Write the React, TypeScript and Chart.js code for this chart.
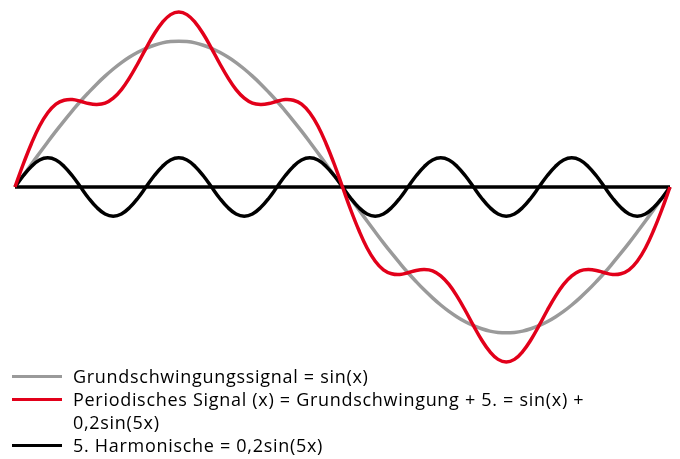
import React, { useEffect, useRef } from "react";
import { Chart, registerables } from "chart.js";

Chart.register(...registerables);

// x positions in degrees (0..360, step 4.5)
const xDegrees = [
  0, 4.5, 9, 13.5, 18, 22.5, 27, 31.5, 36, 40.5, 45, 49.5, 54, 58.5, 63, 67.5, 72, 76.5, 81, 85.5,
  90, 94.5, 99, 103.5, 108, 112.5, 117, 121.5, 126, 130.5, 135, 139.5, 144, 148.5, 153, 157.5, 162, 166.5, 171, 175.5,
  180, 184.5, 189, 193.5, 198, 202.5, 207, 211.5, 216, 220.5, 225, 229.5, 234, 238.5, 243, 247.5, 252, 256.5, 261, 265.5,
  270, 274.5, 279, 283.5, 288, 292.5, 297, 301.5, 306, 310.5, 315, 319.5, 324, 328.5, 333, 337.5, 342, 346.5, 351, 355.5,
  360,
];

// Grundschwingungssignal = sin(x)
const grundValues = [
  0, 0.078, 0.156, 0.233, 0.309, 0.383, 0.454, 0.522, 0.588, 0.649, 0.707, 0.76, 0.809, 0.853, 0.891, 0.924, 0.951, 0.972, 0.988, 0.997,
  1, 0.997, 0.988, 0.972, 0.951, 0.924, 0.891, 0.853, 0.809, 0.76, 0.707, 0.649, 0.588, 0.522, 0.454, 0.383, 0.309, 0.233, 0.156, 0.078,
  0, -0.078, -0.156, -0.233, -0.309, -0.383, -0.454, -0.522, -0.588, -0.649, -0.707, -0.76, -0.809, -0.853, -0.891, -0.924, -0.951, -0.972, -0.988, -0.997,
  -1, -0.997, -0.988, -0.972, -0.951, -0.924, -0.891, -0.853, -0.809, -0.76, -0.707, -0.649, -0.588, -0.522, -0.454, -0.383, -0.309, -0.233, -0.156, -0.078,
  0,
];

// 5. Harmonische = 0,2sin(5x)
const harmonicValues = [
  0, 0.077, 0.141, 0.185, 0.2, 0.185, 0.141, 0.077, 0, -0.077, -0.141, -0.185, -0.2, -0.185, -0.141, -0.077,
  0, 0.077, 0.141, 0.185, 0.2, 0.185, 0.141, 0.077, 0, -0.077, -0.141, -0.185, -0.2, -0.185, -0.141, -0.077,
  0, 0.077, 0.141, 0.185, 0.2, 0.185, 0.141, 0.077, 0, -0.077, -0.141, -0.185, -0.2, -0.185, -0.141, -0.077,
  0, 0.077, 0.141, 0.185, 0.2, 0.185, 0.141, 0.077, 0, -0.077, -0.141, -0.185, -0.2, -0.185, -0.141, -0.077,
  0, 0.077, 0.141, 0.185, 0.2, 0.185, 0.141, 0.077, 0, -0.077, -0.141, -0.185, -0.2, -0.185, -0.141, -0.077,
  0,
];

// Periodisches Signal = sin(x) + 0,2sin(5x)
const periodicValues = [
  0, 0.156, 0.297, 0.418, 0.509, 0.568, 0.595, 0.6, 0.588, 0.572, 0.566, 0.575, 0.609, 0.668, 0.75, 0.847, 0.951, 1.049, 1.129, 1.182,
  1.2, 1.182, 1.129, 1.049, 0.951, 0.847, 0.75, 0.668, 0.609, 0.575, 0.566, 0.572, 0.588, 0.6, 0.595, 0.568, 0.509, 0.418, 0.297, 0.156,
  0, -0.156, -0.297, -0.418, -0.509, -0.568, -0.595, -0.6, -0.588, -0.572, -0.566, -0.575, -0.609, -0.668, -0.75, -0.847, -0.951, -1.049, -1.129, -1.182,
  -1.2, -1.182, -1.129, -1.049, -0.951, -0.847, -0.75, -0.668, -0.609, -0.575, -0.566, -0.572, -0.588, -0.6, -0.595, -0.568, -0.509, -0.418, -0.297, -0.156,
  0,
];

// zero axis line endpoints
const axisX = [0, 360];
const axisY = [0, 0];

const GRAY = "#9a9a9a";
const RED = "#e2001a";
const BLACK = "#000000";

const legendItems = [
  { color: GRAY, lines: ["Grundschwingungssignal = sin(x)"] },
  { color: RED, lines: ["Periodisches Signal (x) = Grundschwingung + 5. = sin(x) +", "0,2sin(5x)"] },
  { color: BLACK, lines: ["5. Harmonische = 0,2sin(5x)"] },
];

const FONT = "'Open Sans', 'Noto Sans', sans-serif";

export default function App() {
  const canvasRef = useRef<HTMLCanvasElement | null>(null);

  useEffect(() => {
    if (!canvasRef.current) return;
    const pts = (ys: number[]) => ys.map((y, i) => ({ x: xDegrees[i], y }));
    const chart = new Chart(canvasRef.current, {
      type: "line",
      data: {
        datasets: [
          {
            label: "Periodisches Signal",
            data: pts(periodicValues),
            borderColor: RED,
            borderWidth: 3.5,
            pointRadius: 0,
            tension: 0.4,
            order: 0,
          },
          {
            label: "Achse",
            data: axisX.map((x, i) => ({ x, y: axisY[i] })),
            borderColor: BLACK,
            borderWidth: 3.5,
            pointRadius: 0,
            tension: 0,
            order: 1,
          },
          {
            label: "5. Harmonische",
            data: pts(harmonicValues),
            borderColor: BLACK,
            borderWidth: 3.5,
            pointRadius: 0,
            tension: 0.4,
            order: 2,
          },
          {
            label: "Grundschwingungssignal",
            data: pts(grundValues),
            borderColor: GRAY,
            borderWidth: 3.5,
            pointRadius: 0,
            tension: 0.4,
            order: 3,
          },
        ],
      },
      options: {
        animation: false,
        responsive: false,
        maintainAspectRatio: false,
        layout: { padding: { left: 15, right: 10, top: 12, bottom: 13 } },
        datasets: { line: { clip: false as any } },
        plugins: { legend: { display: false }, tooltip: { enabled: false } },
        scales: {
          x: { type: "linear", min: 0, max: 360, display: false },
          y: { type: "linear", min: -1.2, max: 1.2, display: false },
        },
      },
    });
    return () => chart.destroy();
  }, []);

  return (
    <div style={{ position: "fixed", left: 0, top: 0, width: 680, height: 459, background: "#fff" }}>
      <canvas ref={canvasRef} width={680} height={375} style={{ position: "absolute", left: 0, top: 0, width: 680, height: 375 }} />
      <div style={{ position: "absolute", left: 0, top: 365, width: 680, fontFamily: FONT, fontSize: 18, letterSpacing: "0.7px", color: "#000" }}>
        {legendItems.map((item, idx) => (
          <div key={idx} style={{ display: "flex", alignItems: "flex-start", lineHeight: "23px" }}>
            <div style={{ width: 50, marginLeft: 12, marginRight: 11, height: 23, position: "relative", flex: "none" }}>
              <div style={{ position: "absolute", left: 0, right: 0, top: 10, height: 3, background: item.color }} />
            </div>
            <div style={{ whiteSpace: "nowrap" }}>
              {item.lines.map((l, j) => (
                <div key={j}>{l}</div>
              ))}
            </div>
          </div>
        ))}
      </div>
    </div>
  );
}
